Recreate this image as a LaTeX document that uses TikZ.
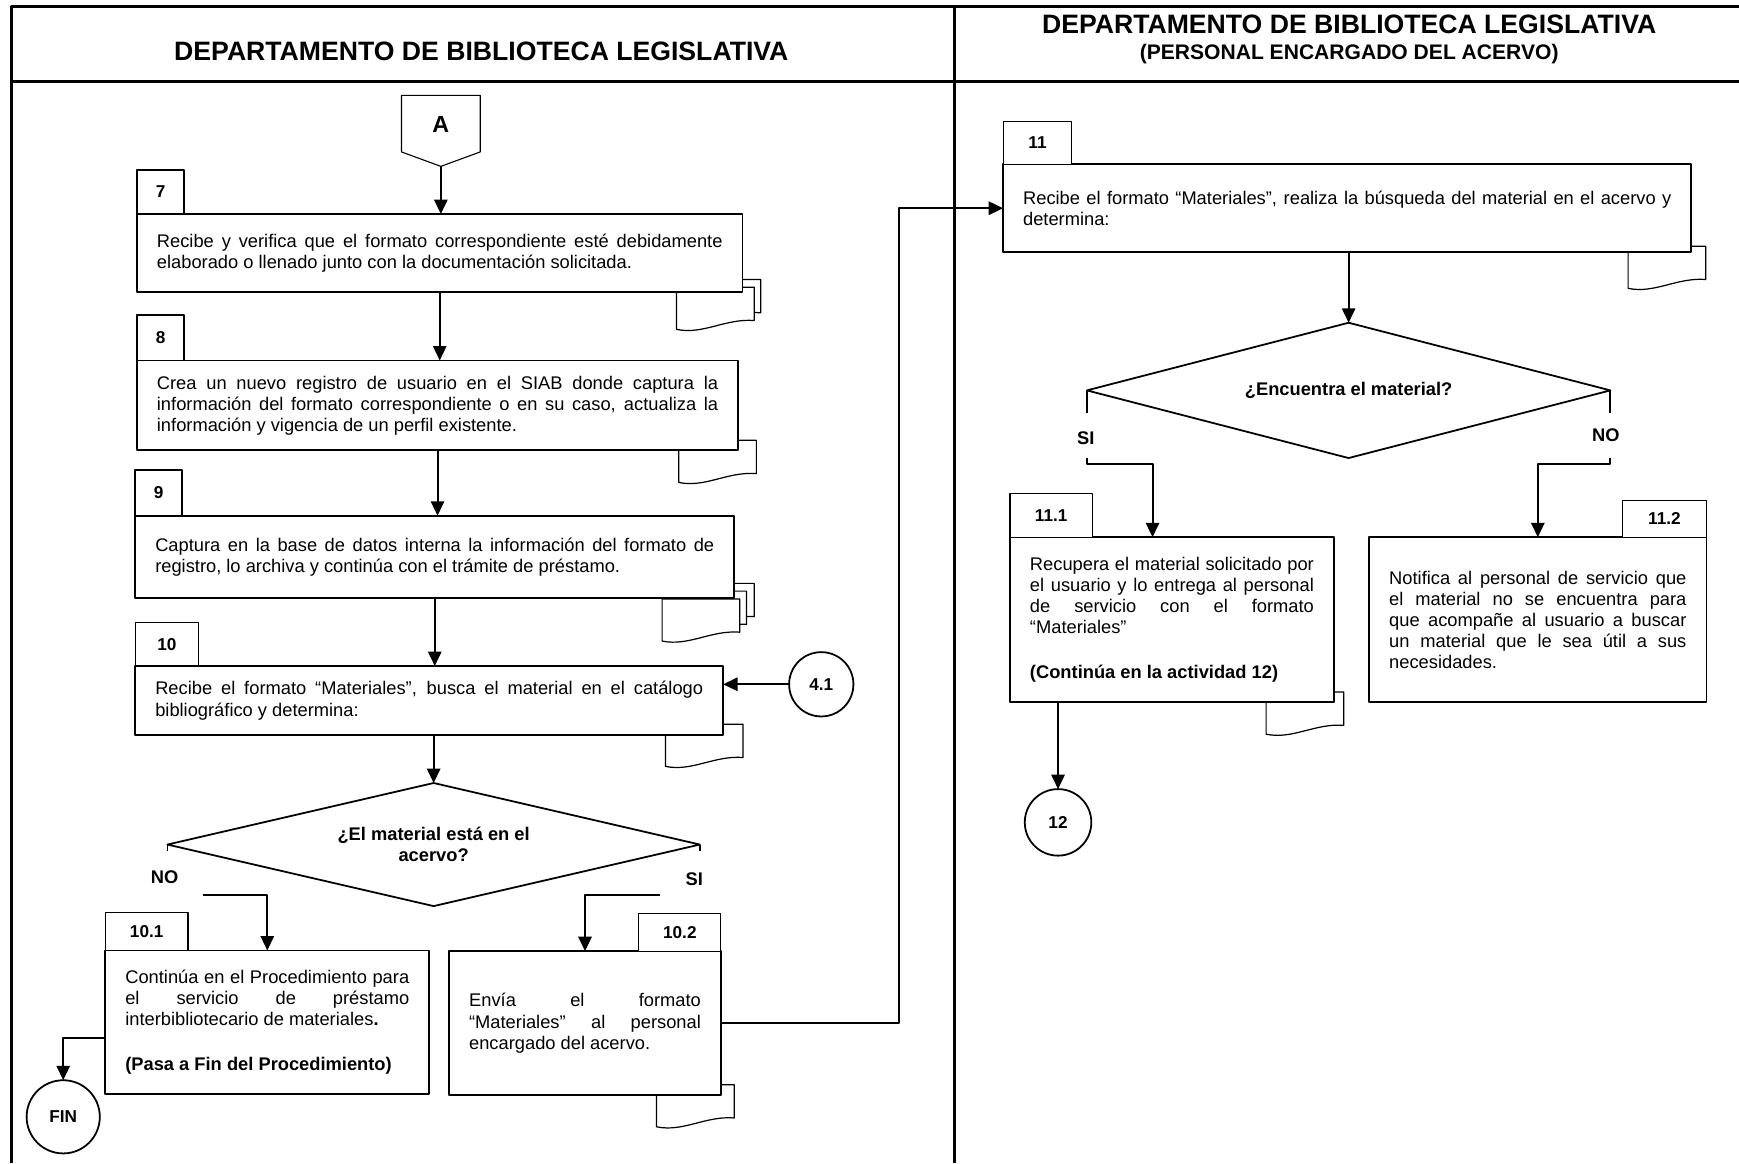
\documentclass[tikz,border=0pt]{standalone}
\usepackage{fontspec}
\setmainfont{Liberation Sans}
\usetikzlibrary{positioning,shapes.geometric,arrows.meta}
\tolerance=10000
\hyphenpenalty=10000

\tikzset{
	docu/.pic={\draw[fill=white, line width=1.1pt] (0,0) -- (0,38) .. controls (24,43) and (44,28) .. (70,30) -- (70,0) -- cycle;},
}

\begin{document}
\begin{tikzpicture}[x=1pt, y=-1pt, line join=round, >=stealth,
	font=\fontsize{16.5}{19}\selectfont,
	actbox/.style={draw, fill=white, line width=1.6pt, outer sep=0pt, inner xsep=18pt, inner ysep=0pt, align=justify, anchor=north west},
	numtab/.style={draw, fill=white, line width=#1, outer sep=0pt, inner sep=0pt, font=\fontsize{15.5}{18}\selectfont\bfseries},
	numtab/.default=1pt,
	flow/.style={line width=1.8pt, -{Triangle[length=13pt,width=12pt]}},
	link/.style={draw, circle, line width=1.6pt, outer sep=0pt, inner sep=0pt, font=\fontsize{15.5}{18}\selectfont\bfseries},
	ask/.style={draw, diamond, fill=white, line width=1.6pt, outer sep=0pt, inner sep=0pt, align=center, font=\fontsize{16.5}{19}\selectfont\bfseries},
	tag/.style={font=\fontsize{16.5}{19}\selectfont\bfseries}]
	\useasboundingbox (0,0) rectangle (1568,1049);
	
	% marco
	\draw[line width=2.6pt] (10,1049) -- (10,6) -- (1568,6) (10,73.5) -- (1568,73.5) (861,6) -- (861,1049);
	\node[font=\fontsize{24}{24}\selectfont\bfseries, anchor=base] (h1) at (434,55) {DEPARTAMENTO DE BIBLIOTECA LEGISLATIVA};
	\node[font=\fontsize{24}{24}\selectfont\bfseries, anchor=base] (h2) at (1216.5,30) {DEPARTAMENTO DE BIBLIOTECA LEGISLATIVA};
	\node[font=\fontsize{19}{19}\selectfont\bfseries, anchor=base] (h3) at (1216.5,54) {(PERSONAL ENCARGADO DEL ACERVO)};
	
	% conector A
	\node[font=\fontsize{21}{21}\selectfont\bfseries] (A) at (397.5,112) {A};
	\draw[line width=1pt] (362,86) -- (433,86) -- (433,137) -- (397.5,150) -- (362,137) -- cycle;
	\coordinate (Ap) at (397.5,150);
	
	% documentos
	\foreach \x/\y in {616/252, 610/259, 612/397, 610/526, 603/533, 597/540, 600/653, 592/978, 1468/222, 1141.6/624}
	\pic at (\x,\y) {docu};
	
	% actividades
	\node[actbox, text width=510pt, minimum height=70pt] (b7) at (123.5,193) {Recibe y verifica que el formato correspondiente esté debidamente\linebreak elaborado o llenado junto con la documentación solicitada.};
	\node[actbox, text width=506pt, minimum height=81pt] (b8) at (123.5,325) {Crea un nuevo registro de usuario en el SIAB donde captura la\linebreak información del formato correspondiente o en su caso, actualiza la\linebreak información y vigencia de un perfil existente.};
	\node[actbox, text width=504pt, minimum height=74pt] (b9) at (122,465) {Captura en la base de datos interna la información del formato de\linebreak registro, lo archiva y continúa con el trámite de préstamo.};
	\node[actbox, text width=494pt, minimum height=62.5pt] (b10) at (122,600.5) {Recibe el formato “Materiales”, busca el material en el catálogo\linebreak bibliográfico y determina:};
	\node[actbox, text width=256pt, minimum height=129.5pt] (b101) at (95,857) {Continúa en el Procedimiento para\linebreak el servicio de préstamo\linebreak interbibliotecario de materiales\textbf{.}\\[22pt]\textbf{(Pasa a Fin del Procedimiento)}};
	\node[actbox, text width=209pt, minimum height=130pt] (b102) at (405,857.6) {Envía el formato\linebreak “Materiales” al personal\linebreak encargado del acervo.};
	\node[actbox, text width=584.5pt, minimum height=79.5pt] (b11) at (904.5,148) {Recibe el formato “Materiales”, realiza la búsqueda del material en el acervo y\linebreak determina:};
	\node[actbox, text width=256pt, minimum height=148.6pt] (b111) at (910.7,484.4) {Recupera el material solicitado por\linebreak el usuario y lo entrega al personal\linebreak de servicio con el formato\linebreak “Materiales”\\[21pt]\textbf{(Continúa en la actividad 12)}};
	\node[actbox, text width=268pt, minimum height=148.6pt] (b112) at (1234.6,484.4) {Notifica al personal de servicio que\linebreak el material no se encuentra para\linebreak que acompañe al usuario a buscar\linebreak un material que le sea útil a sus\linebreak necesidades.};
	
	% pestañas
	\node[numtab=1.6pt, minimum width=42.5pt, minimum height=40pt, anchor=south west] (t7) at (b7.north west) {7};
	\node[numtab=1.6pt, minimum width=42.5pt, minimum height=41pt, anchor=south west] (t8) at (b8.north west) {8};
	\node[numtab=1.6pt, minimum width=42pt, minimum height=41pt, anchor=south west] (t9) at (b9.north west) {9};
	\node[numtab, minimum width=57pt, minimum height=39pt, anchor=south west] (t10) at (b10.north west) {10};
	\node[numtab, minimum width=74.5pt, minimum height=34pt, anchor=south west] (t101) at (b101.north west) {10.1};
	\node[numtab, minimum width=74pt, minimum height=34pt, anchor=south east] (t102) at (b102.north east) {10.2};
	\node[numtab, minimum width=62pt, minimum height=38.3pt, anchor=south west] (t11) at (b11.north west) {11};
	\node[numtab, minimum width=74.3pt, minimum height=39.7pt, anchor=south west] (t111) at (b111.north west) {11.1};
	\node[numtab, minimum width=75.6pt, minimum height=33pt, anchor=south east] (t112) at (b112.north east) {11.2};
	
	% decisiones
	\node[ask, aspect=4.3, minimum width=480pt, minimum height=111pt] (q1) at (391,761.5) {¿El material está en el\\acervo?};
	\node[ask, aspect=4, minimum width=472pt, minimum height=122pt] (q2) at (1216,352) {¿Encuentra el material?};
	\draw[line width=1.6pt] (q1.west) -- ++(0,6) (q1.east) -- ++(0,6) (q2.west) -- ++(0,20) (q2.east) -- ++(0,20);
	\node[tag] (no1) at (148.5,791) {NO};
	\node[tag] (si1) at (626,793) {SI};
	\node[tag] (si2) at (979,395) {SI};
	\node[tag] (no2) at (1448,392) {NO};
	
	% conectores
	\node[link, minimum size=58pt] (c41) at (740.5,617) {4.1};
	\node[link, minimum size=66pt] (fin) at (57,1007) {FIN};
	\node[link, minimum size=60pt] (c12) at (954,741.5) {12};
	
	\path (183,807) coordinate (n1) (595,807) coordinate (s1) (980,413) coordinate (s2) (1452,413) coordinate (n2);
	
	\draw[flow] (Ap) -- (Ap |- b7.north);
	\draw[flow] (b7.south) -- (b7.south |- b8.north);
	\draw[flow] (b8.south) -- (b8.south |- b9.north);
	\draw[flow] (b9.south) -- (b9.south |- b10.north);
	\draw[flow] (c41.west) -- (c41.west -| b10.east);
	\draw[flow] (q1.north |- b10.south) -- (q1.north);
	\draw[flow] (n1) -| (b101.north);
	\draw[flow] (s1) -| (b102.north);
	\draw[flow] ([yshift=-14pt]b101.west) -| (fin.north);
	\draw[flow] (b102.east) -- ++(161,0) |- (b11.west);
	\draw[flow] (q2.north |- b11.south) -- (q2.north);
	\draw[flow] (s2) -- ++(0,5) -| ([xshift=-17.5pt]b111.north);
	\draw[flow] (n2) -- ++(0,5) -| (b112.north);
	\draw[flow] (c12.north |- b111.south) -- (c12.north);
\end{tikzpicture}
\end{document}
